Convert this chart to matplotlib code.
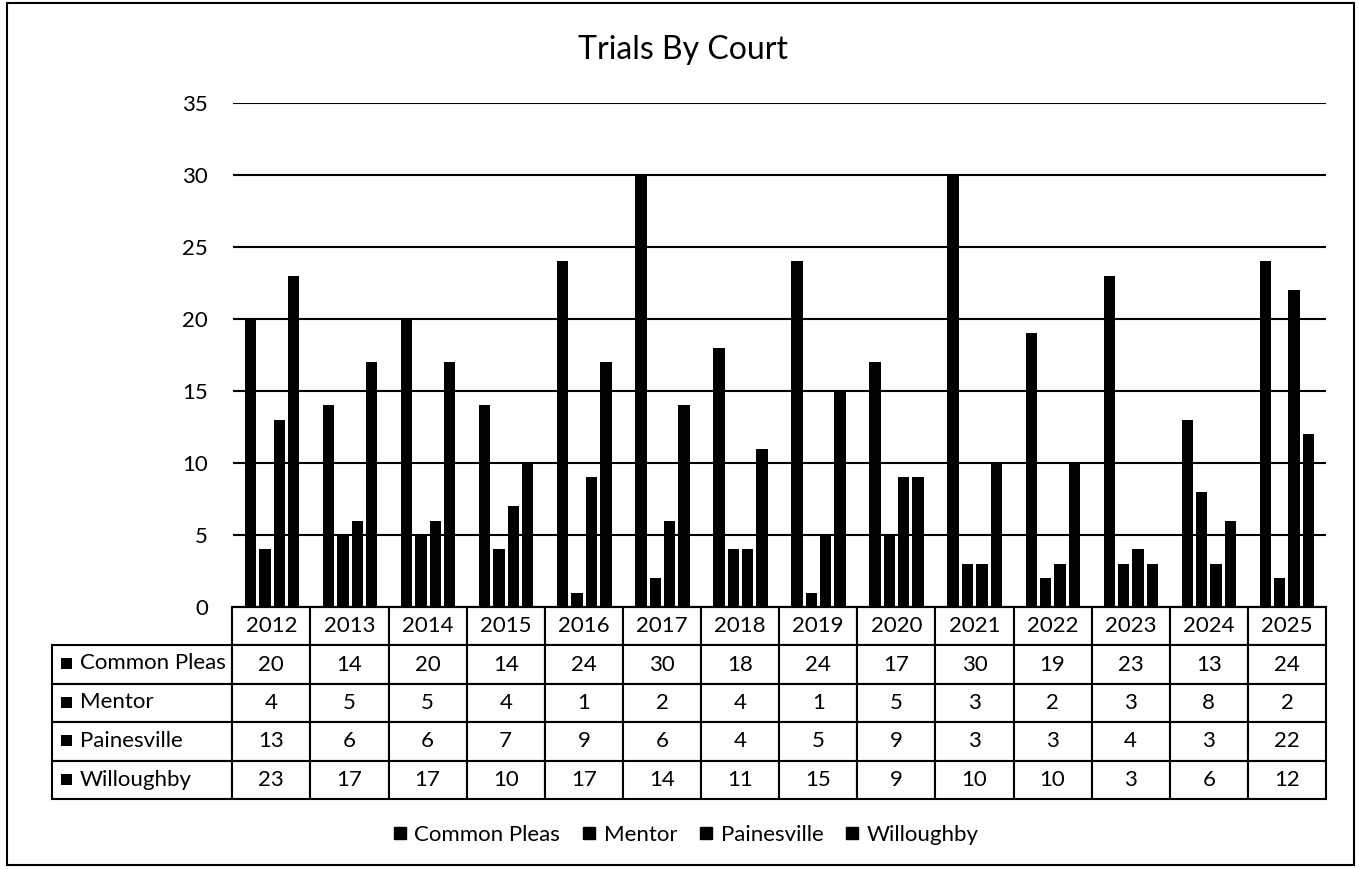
import matplotlib
matplotlib.use("Agg")
import matplotlib.pyplot as plt
import numpy as np
from matplotlib.patches import Rectangle
from matplotlib.lines import Line2D

years = ["2012", "2013", "2014", "2015", "2016", "2017", "2018", "2019",
         "2020", "2021", "2022", "2023", "2024", "2025"]
series_names = ["Common Pleas", "Mentor", "Painesville", "Willoughby"]
common_pleas = [20, 14, 20, 14, 24, 30, 18, 24, 17, 30, 19, 23, 13, 24]
mentor = [4, 5, 5, 4, 1, 2, 4, 1, 5, 3, 2, 3, 8, 2]
painesville = [13, 6, 6, 7, 9, 6, 4, 5, 9, 3, 3, 4, 3, 22]
willoughby = [23, 17, 17, 10, 17, 14, 11, 15, 9, 10, 10, 3, 6, 12]
yticks = [0, 5, 10, 15, 20, 25, 30, 35]

series = [common_pleas, mentor, painesville, willoughby]

plt.rcParams['font.family'] = ['Lato', 'DejaVu Sans']

W, H = 1359, 869
fig = plt.figure(figsize=(W / 100, H / 100), dpi=100)

# plot area in pixels
left_px, right_px = 233, 1326
top_px, zero_px = 103, 607
ax = fig.add_axes([left_px / W, (H - zero_px) / H,
                   (right_px - left_px) / W, (zero_px - top_px) / H])

x = np.arange(len(years))
width = 0.145
step = 0.184
for i, vals in enumerate(series):
    ax.bar(x + (i - 1.5) * step, vals, width=width, color='black', zorder=3)

ax.set_xlim(-0.5, len(years) - 0.5)
ax.set_ylim(0, 35)
ax.set_yticks(yticks)
ax.yaxis.grid(True, color='black', linewidth=1.5, zorder=0)
ax.tick_params(axis='y', length=0, pad=18, labelsize=16)
ax.set_xticks([])
for s in ['left', 'right', 'top']:
    ax.spines[s].set_visible(False)
ax.spines['bottom'].set_linewidth(1.5)

# data table
cell_text = [[""] + [str(v) for v in vals] for vals in series]
col_labels = [""] + years
label_w = 180
col_w = 78
total_w = label_w + col_w * len(years)
col_widths = [label_w / total_w] + [col_w / total_w] * len(years)
tbl_left = (52 - left_px) / (right_px - left_px)
tbl_bottom_px = 799
tbl_bottom = (zero_px - tbl_bottom_px) / (zero_px - top_px)
tbl = ax.table(cellText=cell_text, colLabels=col_labels, colWidths=col_widths,
               cellLoc='center', colLoc='center',
               bbox=[tbl_left, tbl_bottom, 1 - tbl_left, -tbl_bottom])
tbl.auto_set_font_size(False)
tbl.set_fontsize(16)
for (r, c), cell in tbl.get_celld().items():
    cell.set_linewidth(1.5)
    cell.set_edgecolor('black')
    if r == 0 and c == 0:
        cell.visible_edges = ''

# row labels with legend-key squares
row_h_px = (tbl_bottom_px - 644) / 4
for i, name in enumerate(series_names):
    yc = 644 + row_h_px * (i + 0.5)
    fig.add_artist(Rectangle((61 / W, 1 - (yc + 5.5) / H), 11 / W, 11 / H,
                             transform=fig.transFigure, facecolor='black',
                             edgecolor='none'))
    fig.text(80 / W, 1 - yc / H, name, ha='left', va='center',
             fontsize=16)

# title
fig.text(683 / W, 1 - 50 / H, "Trials By Court", ha='center', va='center',
         fontsize=23)

# legend
handles = [Line2D([], [], marker='s', linestyle='none', color='black',
                  markersize=8.5) for _ in series_names]
fig.legend(handles, series_names, loc='center', bbox_to_anchor=(686 / W, 1 - 835 / H),
           ncol=4, frameon=False, fontsize=16, handletextpad=0.35,
           handlelength=0.6, columnspacing=1.0)

# outer border
fig.add_artist(Rectangle((7 / W, 4 / H), (1354 - 7) / W, (866 - 4) / H,
                         transform=fig.transFigure, fill=False,
                         edgecolor='black', linewidth=1.5))

fig.savefig("out.png", dpi=100)
